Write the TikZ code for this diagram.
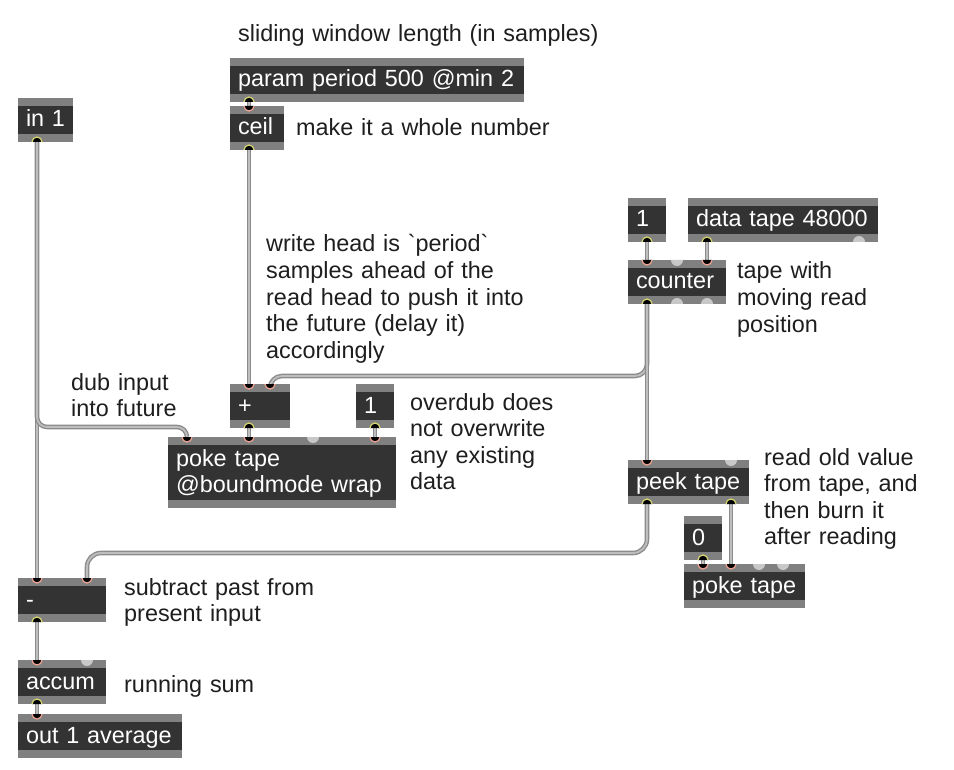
\documentclass[tikz,border=0pt]{standalone}
\usepackage{fontspec}
\setmainfont{Liberation Sans}
\definecolor{boxbg}{HTML}{333333}
\definecolor{boxbar}{HTML}{808080}
\definecolor{cableout}{HTML}{8C8C8C}
\definecolor{cablein}{HTML}{BEBEBE}
\definecolor{inring}{HTML}{F0A392}
\definecolor{outring}{HTML}{D6D66E}
\definecolor{unusedport}{HTML}{C8C8C8}
\definecolor{commentcol}{HTML}{1E1E1E}
\begin{document}
\begin{tikzpicture}[x=1pt,y=-1pt,
  every node/.style={font=\fontsize{23.4}{26.6}\selectfont},
  obj/.style={anchor=north west,fill=boxbg,text=white,inner xsep=8pt,inner ysep=8pt,outer sep=0pt,
    text height=21pt,text depth=7pt,align=left,text width=#1,
    path picture={\fill[boxbar] (path picture bounding box.north west) rectangle ([yshift=-8pt]path picture bounding box.north east);
      \fill[boxbar] (path picture bounding box.south west) rectangle ([yshift=8pt]path picture bounding box.south east);}},
  note/.style={anchor=base west,inner sep=0pt,align=left,text width=400pt,text=commentcol},
  cable/.style={draw=cableout,line width=1.4pt,double=cablein,double distance=1.8pt,rounded corners=6pt}]
  \useasboundingbox[fill=white] (0,0) rectangle (954,770);
  % objects
  \node[obj=278pt] (param) at (230,58) {\mbox{param period 500 @min 2}};
  \node[obj=38pt] (ceil) at (230,106) {\mbox{ceil}};
  \node[obj=39pt] (inone) at (18,98) {\mbox{in 1}};
  \node[obj=22pt] (numone) at (628,198) {1};
  \node[obj=174pt] (data) at (688,198) {\mbox{data tape 48000}};
  \node[obj=82pt] (counter) at (628,260) {\mbox{counter}};
  \node[obj=44pt] (plus) at (230,384) {+};
  \node[obj=22pt] (overdub) at (356,384) {1};
  \node[obj=212pt,text depth=33.6pt] (poke) at (168,437) {poke tape\\\mbox{@boundmode wrap}};
  \node[obj=105pt] (peek) at (628,460) {\mbox{peek tape}};
  \node[obj=22pt] (zero) at (684,516) {0};
  \node[obj=105pt] (burn) at (684,564) {\mbox{poke tape}};
  \node[obj=72pt] (minus) at (18,578) {-};
  \node[obj=72pt] (accum) at (18,660) {\mbox{accum}};
  \node[obj=148pt] (out) at (18,714) {\mbox{out 1 average}};
  % comments
  \node[note] (cwin) at (238,42) {sliding window length (in samples)};
  \node[note] (cceil) at (296,136) {make it a whole number};
  \node[note] (chead) at (266,252) {write head is \textasciigrave period\textasciigrave\\samples ahead of the\\read head to push it into\\the future (delay it)\\accordingly};
  \node[note] (ctape) at (737,279) {tape with\\moving read\\position};
  \node[note] (cdub) at (71,390) {dub input\\into future};
  \node[note] (cover) at (410,410) {overdub does\\not overwrite\\any existing\\data};
  \node[note] (cburn) at (764,465) {read old value\\from tape, and\\then burn it\\after reading};
  \node[note] (csub) at (124,595) {subtract past from\\present input};
  \node[note] (csum) at (124,692) {running sum};
  % ports
  \foreach \n/\a/\o in {param-o0/param.south west/19, ceil-i0/ceil.north west/19, ceil-o0/ceil.south west/19,
      inone-o0/inone.south west/19, numone-o0/numone.south west/19, data-o0/data.south west/19, data-o1/data.south west/171,
      counter-i0/counter.north west/19, counter-i1/counter.north west/49, counter-i2/counter.north west/79,
      counter-o0/counter.south west/19, counter-o1/counter.south west/49, counter-o2/counter.south west/79,
      plus-i0/plus.north west/19, plus-i1/plus.north west/40, plus-o0/plus.south west/19, overdub-o0/overdub.south west/19,
      poke-i0/poke.north west/19, poke-i1/poke.north west/81, poke-i2/poke.north west/145, poke-i3/poke.north west/207,
      peek-i0/peek.north west/19, peek-i1/peek.north west/103, peek-o0/peek.south west/19, peek-o1/peek.south west/103,
      zero-o0/zero.south west/19, burn-i0/burn.north west/19, burn-i1/burn.north west/47, burn-i2/burn.north west/75,
      burn-i3/burn.north west/99, minus-i0/minus.north west/19, minus-i1/minus.north west/69, minus-o0/minus.south west/19,
      accum-i0/accum.north west/19, accum-i1/accum.north west/69, accum-o0/accum.south west/19, out-i0/out.north west/19}
    \coordinate (\n) at ([xshift=\o pt]\a);
  % cables
  \draw[cable] (param-o0) -- (ceil-i0);
  \draw[cable] (ceil-o0) -- (plus-i0);
  \draw[cable] (inone-o0) -- (minus-i0);
  \draw[cable,rounded corners=10pt] (inone-o0) |- ([yshift=10pt]poke-i0) [rounded corners=6pt] -- (poke-i0);
  \draw[cable,rounded corners=12pt] (counter-o0) |- ([yshift=8pt]plus-i1) [rounded corners=5pt] -- (plus-i1);
  \draw[cable] (counter-o0) -- (peek-i0);
  \draw[cable] (numone-o0) -- (counter-i0);
  \draw[cable] (data-o0) -- (counter-i2);
  \draw[cable] (plus-o0) -- (poke-i1);
  \draw[cable] (overdub-o0) -- (poke-i3);
  \draw[cable,rounded corners=14pt] (peek-o0) |- ([yshift=25pt]minus-i1) -- (minus-i1);
  \draw[cable] (peek-o1) -- (burn-i1);
  \draw[cable] (zero-o0) -- (burn-i0);
  \draw[cable] (minus-o0) -- (accum-i0);
  \draw[cable] (accum-o0) -- (out-i0);
  % port glyphs
  \foreach \p in {ceil-i0,counter-i0,counter-i2,plus-i0,plus-i1,poke-i0,poke-i1,poke-i3,peek-i0,burn-i0,burn-i1,minus-i0,minus-i1,accum-i0,out-i0}
    {\fill[black] (\p) ++(-5,0) arc (180:0:5) -- cycle;
     \draw[inring,line width=1.2pt] (\p) ++(-5,0) arc (180:0:5);}
  \foreach \p in {param-o0,ceil-o0,inone-o0,numone-o0,data-o0,counter-o0,plus-o0,overdub-o0,peek-o0,peek-o1,zero-o0,minus-o0,accum-o0}
    {\fill[black] (\p) ++(-5,0) arc (180:360:5) -- cycle;
     \draw[outring,line width=1.2pt] (\p) ++(-5,0) arc (180:360:5);}
  \foreach \p in {counter-i1,poke-i2,peek-i1,burn-i2,burn-i3,accum-i1}
    \fill[unusedport] (\p) ++(-6,0) arc (180:0:6) -- cycle;
  \foreach \p in {data-o1,counter-o1,counter-o2}
    \fill[unusedport] (\p) ++(-6,0) arc (180:360:6) -- cycle;
\end{tikzpicture}
\end{document}
